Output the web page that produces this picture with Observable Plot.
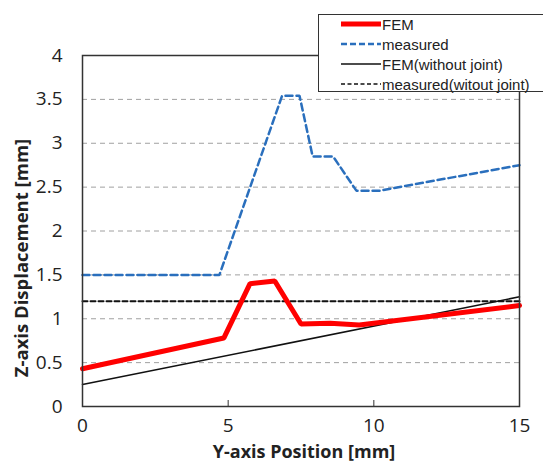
<!DOCTYPE html>
<html>
<head>
<meta charset="utf-8">
<script src="https://cdn.jsdelivr.net/npm/d3@7"></script>
<script src="https://cdn.jsdelivr.net/npm/@observablehq/plot@0.6"></script>
<style>
  body { margin: 0; background: #fff; }
  #wrap { position: relative; width: 543px; height: 462px; overflow: hidden; }
  #legend { position: absolute; left: 318px; top: 14px; width: 240px; height: 78px;
    border: 1.5px solid #333; background: #fff; box-sizing: border-box;
    font-family: "Liberation Sans", Arial, sans-serif; font-size: 15px; color: #222; }
  #legend .row { position: absolute; left: 22px; height: 20px; display: flex; align-items: center; white-space: nowrap; }
  #legend svg { display: block; margin-right: 1px; }
</style>
</head>
<body>
<div id="wrap">
  <div id="chart"></div>
  <div id="legend"></div>
</div>
<script>
// ---- data ----
const femX = [0, 4.85, 5.75, 6.6, 7.5, 8.5, 9.5, 15];
const femY = [0.43, 0.78, 1.40, 1.43, 0.94, 0.95, 0.93, 1.15];

const measX = [0, 4.7, 6.85, 7.45, 7.9, 8.6, 9.4, 10.2, 15];
const measY = [1.5, 1.5, 3.54, 3.54, 2.85, 2.85, 2.46, 2.46, 2.75];

const femNoJointX = [0, 15];
const femNoJointY = [0.25, 1.25];

const measNoJointX = [0, 15];
const measNoJointY = [1.2, 1.2];

const xTicks = [0, 5, 10, 15];
const xInnerTicks = [5, 10];
const yTicks = [0, 0.5, 1, 1.5, 2, 2.5, 3, 3.5, 4];
const yGrid = [0.5, 1, 1.5, 2, 2.5, 3, 3.5];

const seriesNames = ["FEM", "measured", "FEM(without joint)", "measured(witout joint)"];
const xTitle = "Y-axis Position [mm]";
const yTitle = "Z-axis Displacement [mm]";

const zip = (xs, ys) => xs.map((x, i) => ({x, y: ys[i]}));
const fem = zip(femX, femY);
const meas = zip(measX, measY);
const femNJ = zip(femNoJointX, femNoJointY);
const measNJ = zip(measNoJointX, measNoJointY);

const font = "'Open Sans', Lato, sans-serif";

const chart = Plot.plot({
  width: 543,
  height: 462,
  marginLeft: 82,
  marginRight: 24,
  marginTop: 55,
  marginBottom: 56,
  style: { fontFamily: font, background: "#fff" },
  x: { domain: [0, 15] },
  y: { domain: [0, 4] },
  marks: [
    Plot.ruleY(yGrid, { stroke: "#a0a0a0", strokeWidth: 1, strokeDasharray: "5,4" }),
    Plot.line(measNJ, { x: "x", y: "y", stroke: "#111", strokeWidth: 2, strokeDasharray: "5,3" }),
    Plot.line(femNJ, { x: "x", y: "y", stroke: "#111", strokeWidth: 1.5 }),
    Plot.line(meas, { x: "x", y: "y", stroke: "#2a6fbd", strokeWidth: 2.5, strokeDasharray: "7,4", strokeLinejoin: "miter" }),
    Plot.line(fem, { x: "x", y: "y", stroke: "#ff0000", strokeWidth: 5, strokeLinejoin: "miter" }),
    Plot.frame({ stroke: "#333", strokeWidth: 1.5 }),
    Plot.axisY({ ticks: yTicks, tickSize: 0, tickPadding: 20, tickFormat: d => String(d), fontSize: 19, fill: "#222", label: null }),
    Plot.axisX({ ticks: xTicks, tickSize: 0, tickPadding: 12, tickFormat: d => String(d), fontSize: 19, fill: "#222", label: null }),
    Plot.axisX({ ticks: xInnerTicks, tickSize: 6, dy: -6, tickFormat: () => "", stroke: "#333", label: null }),
    Plot.text([yTitle], { frameAnchor: "left", textAnchor: "middle", lineAnchor: "middle", dx: -60, dy: 27, rotate: -90, fontSize: 18.5, fontWeight: "bold", fill: "#222", fontFamily: font }),
    Plot.text([xTitle], { frameAnchor: "bottom", textAnchor: "middle", lineAnchor: "middle", dx: 3, dy: 46, fontSize: 18, fontWeight: "bold", fill: "#222", fontFamily: font })
  ]
});
document.getElementById("chart").appendChild(chart);

// ---- legend ----
const legendStyles = [
  { stroke: "#ff0000", width: 5, dash: null },
  { stroke: "#2a6fbd", width: 2.5, dash: "6,3" },
  { stroke: "#111", width: 1.5, dash: null },
  { stroke: "#111", width: 1.5, dash: "4,2.5" }
];
const legendTops = [-1, 19, 39, 59];
const legend = document.getElementById("legend");
seriesNames.forEach((name, i) => {
  const row = document.createElement("div");
  row.className = "row";
  row.style.top = legendTops[i] + "px";
  const s = legendStyles[i];
  row.innerHTML = `<svg width="40" height="10"><line x1="0" x2="40" y1="5" y2="5" stroke="${s.stroke}" stroke-width="${s.width}" ${s.dash ? `stroke-dasharray="${s.dash}"` : ""}/></svg><span>${name}</span>`;
  legend.appendChild(row);
});
</script>
</body>
</html>
